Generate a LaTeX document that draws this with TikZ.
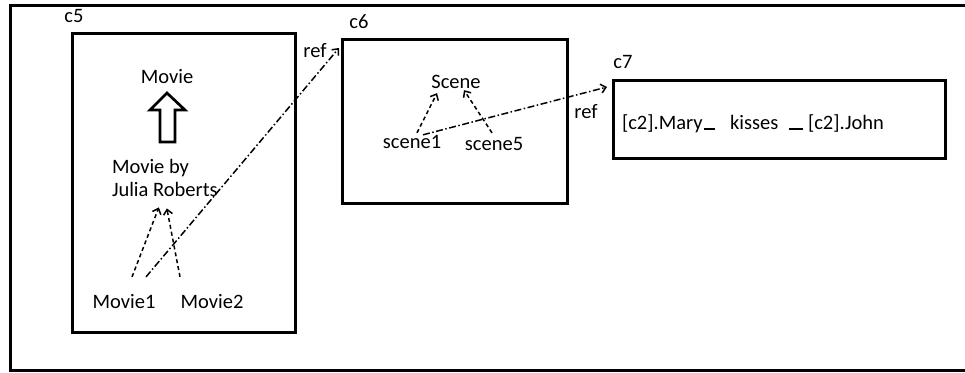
\documentclass[tikz,border=0pt]{standalone}
\usepackage{fontspec}
\setmainfont{Carlito}
\usetikzlibrary{arrows.meta, positioning}

\begin{document}
\begin{tikzpicture}[
        x=1pt, y=-1pt,
        every node/.style={inner sep=0pt, outer sep=0pt, font=\fontsize{20.5}{23}\selectfont},
        ctx/.style={draw, line width=3pt, anchor=north west},
        tag/.style={anchor=base},
        dep/.style={-{Straight Barb[length=5pt, width=9pt]}, line width=1.5pt, dash pattern=on 4pt off 3pt},
        ref/.style={-{Straight Barb[length=5pt, width=9pt]}, line width=1.5pt, dash pattern=on 7pt off 2.5pt on 1.5pt off 2.5pt},
        isa/.style={draw, line width=2.7pt, line join=miter},
        link/.style={line width=2pt}
    ]
        \useasboundingbox (0,0) rectangle (965,372);
        \draw[line width=3pt] (968,5) -- (10,5) -- (10,370) -- (968,370);

        \node[ctx, minimum width=223pt, minimum height=299pt] (c5) at (72,33) {};
        \node[ctx, minimum width=225pt, minimum height=164pt] (c6) at (342,39) {};
        \node[ctx, minimum width=332pt, minimum height=78pt] (c7) at (613,80) {};
        \node[tag] (c5l) at (74,22) {c5};
        \node[tag] (c6l) at (359,28) {c6};
        \node[tag] (c7l) at (623,68) {c7};

        \node[tag] (movie) at (167,83) {Movie};
        \node[anchor=north west, align=left] (julia) at (112,159) {Movie by\\Julia Roberts};
        \node[tag] (movieA) at (124,308) {Movie1};
        \node[tag] (movieB) at (212,308) {Movie2};
        \draw[isa] (160,142) -- (160,110) -- (150,110) -- (167,93) -- (185,110) -- (175,110) -- (175,142) -- cycle;
        \draw[dep] ([shift={(8,-17)}]movieA.north) -- ([shift={(-6,11)}]julia.south);
        \draw[dep] ([shift={(-32,-17)}]movieB.north) -- ([shift={(2,12)}]julia.south);

        \node[tag] (scene) at (456,88) {Scene};
        \node[tag] (sceneA) at (412,148) {scene1};
        \node[tag] (sceneE) at (494,150) {scene5};
        \draw[dep] ([shift={(5,-2)}]sceneA.north) -- ([shift={(-19,5)}]scene.south);
        \draw[dep] ([shift={(-2,-4)}]sceneE.north) -- ([shift={(8,2)}]scene.south);

        \node[anchor=base west] (mary) at (622,129) {[c2].Mary};
        \node[anchor=base west] (kiss) at (730,129) {kisses};
        \node[anchor=base west] (john) at (808,129) {[c2].John};
        \draw[link] ([xshift=1pt]mary.base east) -- ([xshift=-15pt]kiss.base west);
        \draw[link] ([xshift=-19pt]john.base west) -- ([xshift=-5pt]john.base west);

        \draw[ref] ([shift={(22,-17)}]movieA.north) -- ([shift={(-3,9)}]c6.north west);
        \node[tag] (refA) at (315,57) {ref};
        \draw[ref] ([shift={(11,0)}]sceneA.north) -- ([shift={(-6,7)}]c7.north west);
        \node[tag] (refB) at (586,118) {ref};
    \end{tikzpicture}
\end{document}
